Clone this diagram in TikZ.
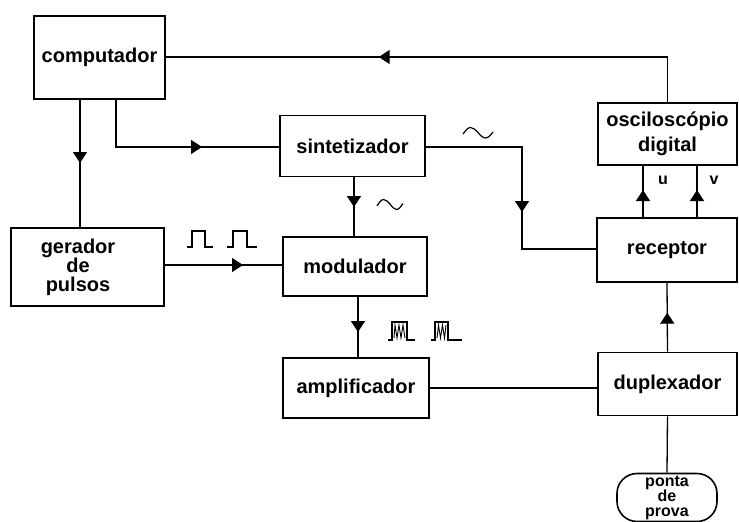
\documentclass[tikz,border=0pt]{standalone}
\usepackage{fontspec}
\setmainfont{Liberation Sans}
\usetikzlibrary{arrows.meta,decorations.markings}
\begin{document}
\begin{tikzpicture}[x=1pt,y=-1pt,
  blk/.style={draw,line width=1.6pt,rectangle,inner sep=0pt,font=\fontsize{20}{24}\selectfont\bfseries,align=center},
  wire/.style={line width=1.3pt},
  marrow/.style={postaction={decorate},decoration={markings,mark=at position #1 with {\arrow{Triangle[width=14pt,length=11pt]}}}},
  sig/.style={line width=1.2pt}]
\useasboundingbox (0,0) rectangle (739,522);
\node[blk,minimum width=131pt,minimum height=83pt] (comp) at (99.5,57.5) {computador};
\node[blk,minimum width=145pt,minimum height=61pt] (sint) at (352.5,146) {sintetizador};
\node[blk,minimum width=139pt,minimum height=62pt,font=\fontsize{20}{25}\selectfont\bfseries] (osc) at (667.5,134) {osciloscópio\\digital};
\node[blk,minimum width=140pt,minimum height=64pt] (rec) at (667,250) {receptor};
\node[blk,minimum width=153pt,minimum height=78pt] (ger) at (87.5,267) {};
\node[font=\fontsize{20}{19}\selectfont\bfseries,align=center,inner sep=0pt] (gert) at (78,267) {gerador\\de\\pulsos};
\node[blk,minimum width=144pt,minimum height=59pt] (mod) at (355,266.5) {modulador};
\node[blk,minimum width=146pt,minimum height=60pt] (amp) at (356,388) {amplificador};
\node[blk,minimum width=139pt,minimum height=63pt] (dup) at (667.5,384) {duplexador};
\node[blk,minimum width=100pt,minimum height=48pt,rounded corners=20pt,font=\fontsize{16}{15}\selectfont\bfseries] (pon) at (667,497.5) {ponta\\de\\prova};
% coordinates for off-centre connector ends
\coordinate (c1) at (80,99);
\coordinate (c2) at (116,99);
\coordinate (g1) at (80,228);
\coordinate (s1) at (280,147);
\coordinate (s2) at (425,147);
\coordinate (r1) at (597,249);
\coordinate (ou) at (643,165);
\coordinate (ov) at (697,165);
\coordinate (ru) at (643,218);
\coordinate (rv) at (697,218);
\coordinate (cr) at (165,57);
\coordinate (st) at (354,177);
\coordinate (mt) at (354,237);
\coordinate (gm) at (164,265);
\coordinate (mg) at (283,265);
\coordinate (mb) at (358,296);
\coordinate (at) at (358,358);
% connectors
\draw[wire,marrow=334pt] (osc.north) |- (cr);
\draw[wire,marrow=64pt] (c1) -- (g1);
\draw[wire,marrow=134pt] (c2) |- (s1);
\draw[wire,marrow=30pt] (st) -- (mt);
\draw[wire,marrow=162pt] (s2) -- (522,147) |- (r1);
\draw[wire,marrow=79pt] (gm) -- (mg);
\draw[wire,marrow=36pt] (mb) -- (at);
\draw[wire,marrow=28pt] (ru) -- (ou);
\draw[wire,marrow=28pt] (rv) -- (ov);
\draw[wire,marrow=39pt] (dup.north) -- (rec.south);
\draw[wire] (amp.east) -- (amp.east -| dup.west);
\draw[wire] (dup.south) -- (pon.north);
% labels
\node[font=\fontsize{16}{16}\selectfont\bfseries] (lu) at (663,180) {u};
\node[font=\fontsize{16}{16}\selectfont\bfseries] (lv) at (714,180) {v};
% sine symbols
\draw[sig] (463,134) sin (470.5,127.5) cos (478,132.5) sin (485.5,138) cos (493,132);
\draw[sig] (377,206) sin (383.5,199.5) cos (390,204) sin (396.5,209.5) cos (403,203.5);
% pulses
\draw[sig] (187,247) -- (192,247) -- (192,231) -- (205,231) -- (205,247) -- (213,247);
\draw[sig] (227,247) -- (233,247) -- (233,231) -- (247,231) -- (247,247) -- (257,247);
% modulated pulses
\draw[sig] (388,340) -- (392,340) -- (392,322) -- (407,322) -- (407,340) -- (415,340);
\draw[line width=0.9pt] (394,338) -- (395,325) -- (397,338) -- (399,325) -- (401,338) -- (403,325) -- (405,338);
\draw[sig] (431,340) -- (435,340) -- (435,322) -- (448,322) -- (448,340) -- (462,340);
\draw[line width=0.9pt] (437,338) -- (438.5,325) -- (440.5,338) -- (442.5,325) -- (444.5,338) -- (446,325);
\end{tikzpicture}
\end{document}
